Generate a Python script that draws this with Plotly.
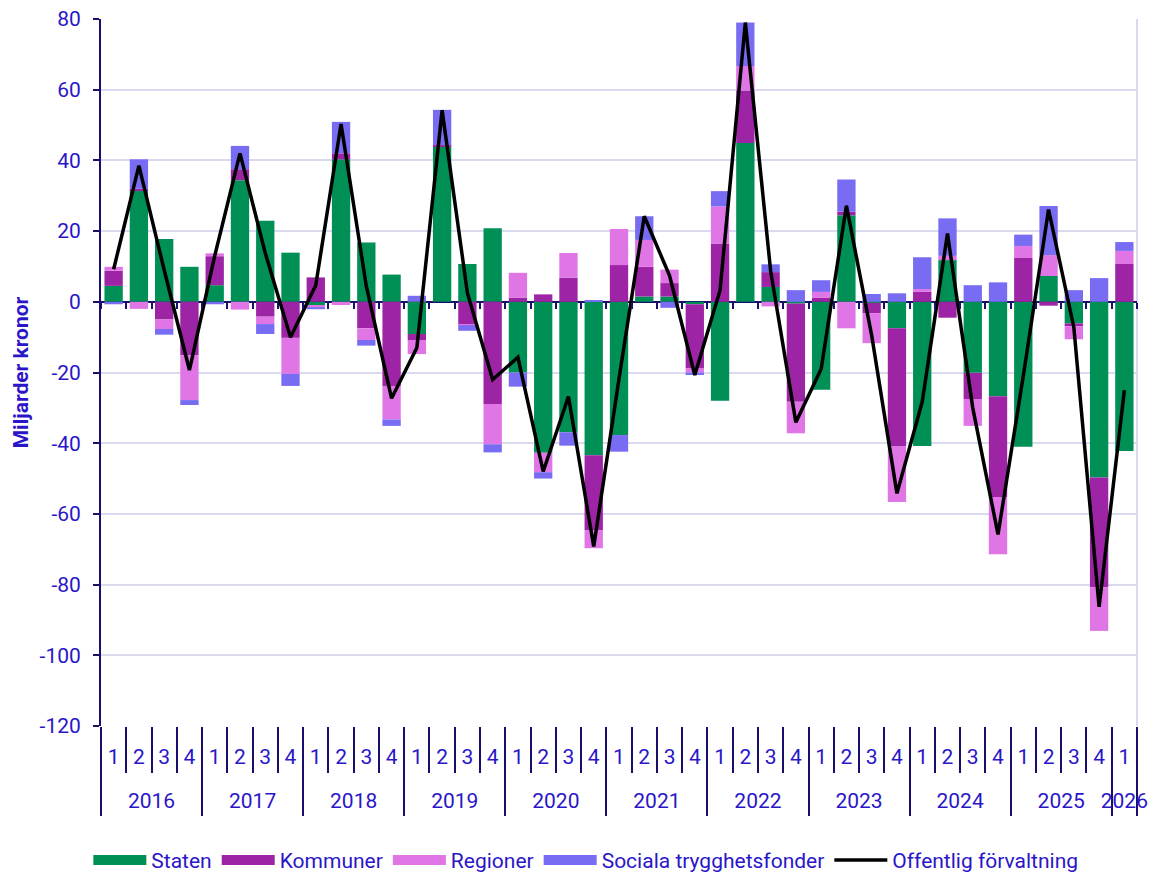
import plotly.graph_objects as go

years = ["2016"] * 4 + ["2017"] * 4 + ["2018"] * 4 + ["2019"] * 4 + ["2020"] * 4 + \
        ["2021"] * 4 + ["2022"] * 4 + ["2023"] * 4 + ["2024"] * 4 + ["2025"] * 4 + ["2026"]
quarters = ["1", "2", "3", "4"] * 10 + ["1"]

staten = [4.5, 31.5, 17.8, 9.9, 4.7, 34.4, 22.9, 13.9, -0.9, 40.3, 16.8, 7.7,
          -9.1, 43.8, 10.7, 20.8, -20.0, -42.7, -36.9, -43.4, -37.7, 1.5, 1.5, -0.7,
          -28.0, 44.9, 4.2, -0.5, -24.9, 24.5, -0.3, -7.5, -40.8, 11.8, -20.1, -26.7,
          -41.0, 7.3, -6.1, -49.7, -42.2]
kommuner = [4.3, 0.5, -5.0, -15.1, 8.2, 3.1, -4.2, -10.2, 6.9, 1.7, -7.5, -23.8,
            -1.7, 0.5, -6.3, -28.9, 1.2, 2.1, 6.8, -21.2, 10.4, 8.4, 3.8, -18.0,
            16.5, 14.9, 4.2, -27.8, 1.2, 1.0, -2.9, -33.3, 2.8, -4.5, -7.4, -28.5,
            12.4, -1.1, -0.8, -31.0, 10.7]
regioner = [1.1, -2.0, -2.7, -12.7, 0.8, -2.2, -2.1, -10.2, -0.6, -0.9, -3.3, -9.5,
            -4.0, 0.0, -0.3, -11.4, 7.0, -5.5, 7.0, -5.1, 10.2, 7.6, 3.8, -1.3,
            10.5, 6.9, -1.3, -8.9, 1.6, -7.5, -8.5, -15.8, 0.8, 1.2, -7.6, -16.2,
            3.4, 5.9, -3.7, -12.4, 3.7]
sociala = [-0.7, 8.3, -1.6, -1.4, -0.7, 6.6, -2.8, -3.4, -0.6, 8.9, -1.6, -1.8,
           1.7, 10.0, -1.6, -2.3, -4.0, -1.8, -3.8, 0.5, -4.7, 6.7, -1.7, -0.7,
           4.3, 12.3, 2.2, 3.3, 3.3, 9.1, 2.2, 2.4, 9.0, 10.6, 4.7, 5.5,
           3.2, 13.9, 3.3, 6.7, 2.5]
offentlig = [9.2, 38.5, 9.0, -19.3, 13.0, 42.0, 13.8, -10.0, 4.7, 50.3, 4.4, -27.3,
             -13.0, 54.2, 2.5, -22.0, -15.7, -48.0, -26.8, -69.2, -21.8, 24.2, 7.4, -20.7,
             3.3, 79.0, 8.8, -34.1, -19.0, 27.2, -9.5, -54.2, -28.3, 19.3, -30.0, -65.8,
             -21.0, 26.1, -7.2, -86.3, -25.0]

y_ticks = [80, 60, 40, 20, 0, -20, -40, -60, -80, -100, -120]
y_ticktext = ["80", "60", "40", "20", "0", "-20", "-40", "-60", "-80", "-100", "-120"]

series = [("Staten", staten, "#008f55"),
          ("Kommuner", kommuner, "#9e24a6"),
          ("Regioner", regioner, "#e075e6"),
          ("Sociala trygghetsfonder", sociala, "#786cf2")]

TXT = "#2a16c8"
NAVY = "#170f6b"
GRID = "#d9d9f0"
FONT = "Roboto, Arial, sans-serif"

cats = [f"{y} K{q}" for y, q in zip(years, quarters)]
n = len(cats)
xr = [-0.5, n - 0.5]

# year groups (derived from the category lists)
year_names = []
year_start = []
for i, y in enumerate(years):
    if not year_names or year_names[-1] != y:
        year_names.append(y)
        year_start.append(i)
year_end = year_start[1:] + [n]
year_centers = [(s + e - 1) / 2 for s, e in zip(year_start, year_end)]
year_bounds = [s - 0.5 for s in year_start] + [n - 0.5]

fig = go.Figure()
for name, vals, col in series:
    fig.add_trace(go.Bar(x=cats, y=vals, name=name, marker_color=col,
                         marker_line_width=0, showlegend=False))
# legend entries (wide colour swatches)
for i, (name, vals, col) in enumerate(series):
    fig.add_trace(go.Scatter(x=[cats[0]], y=[None], mode="lines",
                             line=dict(color=col, width=14), name=name,
                             legendrank=i + 1, hoverinfo="skip"))
fig.add_trace(go.Scatter(x=cats, y=offentlig, mode="lines",
                         line=dict(color="black", width=3.5), name="Offentlig förvaltning",
                         xaxis="x2", legendrank=5))
# carrier for the year axis
fig.add_trace(go.Scatter(x=[], y=[], xaxis="x3", showlegend=False, hoverinfo="skip"))

fig.add_shape(type="line", xref="paper", yref="paper", x0=1, x1=1, y0=0, y1=1,
              line=dict(color=GRID, width=2), layer="below")

fig.update_layout(
    template="none",
    width=1152, height=874,
    margin=dict(l=101, r=15, t=19, b=148, autoexpand=False),
    paper_bgcolor="white", plot_bgcolor="white",
    barmode="relative", bargap=0.275,
    font=dict(family=FONT, color=TXT, size=21),
    showlegend=True,
    legend=dict(orientation="h", x=0.468, xanchor="center", y=-0.19, yanchor="middle",
                font=dict(size=21, color=TXT), traceorder="normal", itemwidth=53,
                bgcolor="rgba(0,0,0,0)"),
    xaxis=dict(type="category", range=xr, automargin=False, showgrid=False, zeroline=False,
               showline=False, ticks="outside", tickson="boundaries", ticklen=46,
               tickwidth=2, tickcolor=NAVY, tickmode="array", tickvals=cats,
               ticktext=quarters, ticklabelstandoff=16,
               tickfont=dict(size=21, color=TXT)),
    xaxis2=dict(type="category", overlaying="x", anchor="free", position=0.6, range=xr,
                automargin=False, showticklabels=False, ticks="outside",
                tickson="boundaries", ticklen=6, tickwidth=2, tickcolor=NAVY,
                showgrid=False, showline=False, zeroline=False),
    xaxis3=dict(type="linear", overlaying="x", anchor="free", position=0, range=xr,
                automargin=False, showgrid=False, showline=False, zeroline=False,
                tickmode="array", tickvals=year_centers, ticktext=year_names,
                ticks="", ticklabelstandoff=60, tickfont=dict(size=21, color=TXT),
                minor=dict(tickmode="array", tickvals=year_bounds, ticks="outside",
                           ticklen=89, tickwidth=2, tickcolor=NAVY, showgrid=False)),
    yaxis=dict(range=[-120, 80], automargin=False, tickmode="array", tickvals=y_ticks,
               ticktext=y_ticktext, showline=True, linecolor=NAVY, linewidth=2,
               ticks="outside", ticklen=6, tickwidth=2, tickcolor=NAVY,
               gridcolor=GRID, gridwidth=2, zeroline=True, zerolinecolor=NAVY,
               zerolinewidth=2, tickfont=dict(size=21, color=TXT), ticklabelstandoff=8,
               title=dict(text="<b>Miljarder kronor</b>", standoff=5,
                          font=dict(size=21, color=TXT))),
)

fig.write_html("out.html", config={"displayModeBar": False},
               post_script="document.body.style.margin='0';"
                           "document.documentElement.style.overflow='hidden';")
